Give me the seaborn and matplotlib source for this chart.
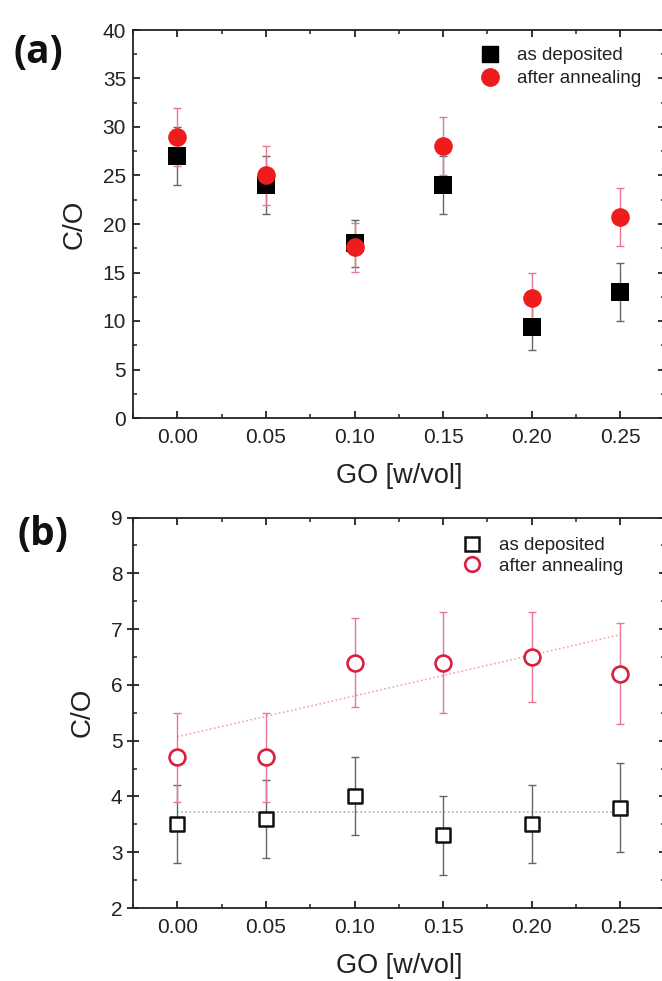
import numpy as np
import pandas as pd
import matplotlib
matplotlib.use("Agg")
import matplotlib.pyplot as plt
import seaborn as sns
from matplotlib.ticker import MultipleLocator, FormatStrFormatter
from matplotlib.lines import Line2D

# ---------------- data ----------------
go = [0.00, 0.05, 0.10, 0.15, 0.20, 0.25]

a_dep = [27.0, 24.0, 18.0, 24.0, 9.4, 13.0]
a_dep_err = [3.0, 3.0, 2.4, 3.0, 2.4, 3.0]
a_ann = [29.0, 25.0, 17.6, 28.0, 12.4, 20.7]
a_ann_err = [3.0, 3.0, 2.5, 3.0, 2.5, 3.0]

b_dep = [3.5, 3.6, 4.0, 3.3, 3.5, 3.8]
b_dep_err = [0.7, 0.7, 0.7, 0.7, 0.7, 0.8]
b_ann = [4.7, 4.7, 6.4, 6.4, 6.5, 6.2]
b_ann_err = [0.8, 0.8, 0.8, 0.9, 0.8, 0.9]

fit_x = [0.0, 0.25]
fit_ann = [5.07, 6.90]
fit_dep = [3.72, 3.72]

labels = ["as deposited", "after annealing"]
xticks = [0.00, 0.05, 0.10, 0.15, 0.20, 0.25]

# ---------------- style ----------------
sns.set_theme(style="white")
plt.rcParams['font.family'] = ['Liberation Sans', 'DejaVu Sans']
plt.rcParams['axes.linewidth'] = 1.3

RED = "#ee1c1c"
RED_EDGE = "#d8213f"
RED_ERR = "#e8788f"
BLK_ERR = "#666666"
TXT = "#222222"

W, H = 662, 981
fig = plt.figure(figsize=(W / 100, H / 100), dpi=100)

axw = 531.6 / W
ax1 = fig.add_axes([133 / W, 1 - 418 / H, axw, 388 / H])
ax2 = fig.add_axes([133 / W, 1 - 908 / H, axw, 390.5 / H])

# ---------------- panel (a) ----------------
dfa = pd.DataFrame({"GO": go * 2, "CO": a_dep + a_ann,
                    "err": a_dep_err + a_ann_err,
                    "kind": [labels[0]] * 6 + [labels[1]] * 6})

ax1.errorbar(go, a_dep, yerr=a_dep_err, fmt='none', ecolor=BLK_ERR,
             elinewidth=1.0, capsize=3, capthick=1.0, zorder=2)
ax1.errorbar(go, a_ann, yerr=a_ann_err, fmt='none', ecolor=RED_ERR,
             elinewidth=1.0, capsize=3, capthick=1.0, zorder=2)
sns.scatterplot(data=dfa[dfa.kind == labels[0]], x="GO", y="CO", ax=ax1,
                marker='s', s=160, color='black', edgecolor='black',
                linewidth=0, zorder=3, legend=False)
sns.scatterplot(data=dfa[dfa.kind == labels[1]], x="GO", y="CO", ax=ax1,
                marker='o', s=180, color=RED, edgecolor=RED,
                linewidth=0, zorder=4, legend=False)

ax1.set_ylim(0, 40)
ax1.yaxis.set_major_locator(MultipleLocator(5))
ax1.yaxis.set_minor_locator(MultipleLocator(2.5))

# ---------------- panel (b) ----------------
dfb = pd.DataFrame({"GO": go * 2, "CO": b_dep + b_ann,
                    "kind": [labels[0]] * 6 + [labels[1]] * 6})
dff = pd.DataFrame({"GO": fit_x * 2, "CO": fit_dep + fit_ann,
                    "kind": [labels[0]] * 2 + [labels[1]] * 2})

sns.lineplot(data=dff[dff.kind == labels[0]], x="GO", y="CO", ax=ax2,
             color="#b0b0b0", linestyle=(0, (1, 1.5)), linewidth=1.2, zorder=1)
sns.lineplot(data=dff[dff.kind == labels[1]], x="GO", y="CO", ax=ax2,
             color="#f2a4ae", linestyle=(0, (1, 1.5)), linewidth=1.2, zorder=1)

ax2.errorbar(go, b_dep, yerr=b_dep_err, fmt='none', ecolor=BLK_ERR,
             elinewidth=1.0, capsize=3, capthick=1.0, zorder=2)
ax2.errorbar(go, b_ann, yerr=b_ann_err, fmt='none', ecolor=RED_ERR,
             elinewidth=1.0, capsize=3, capthick=1.0, zorder=2)
sns.scatterplot(data=dfb[dfb.kind == labels[0]], x="GO", y="CO", ax=ax2,
                marker='s', s=105, facecolor='white', edgecolor='#111111',
                linewidth=1.8, zorder=3, legend=False)
sns.scatterplot(data=dfb[dfb.kind == labels[1]], x="GO", y="CO", ax=ax2,
                marker='o', s=130, facecolor='white', edgecolor=RED_EDGE,
                linewidth=1.9, zorder=4, legend=False)

ax2.set_ylim(2, 9)
ax2.yaxis.set_major_locator(MultipleLocator(1))
ax2.yaxis.set_minor_locator(MultipleLocator(0.5))

# ---------------- common axes formatting ----------------
for ax in (ax1, ax2):
    ax.set_xlim(-0.025, 0.275)
    ax.set_xticks(xticks)
    ax.xaxis.set_minor_locator(MultipleLocator(0.025))
    ax.xaxis.set_major_formatter(FormatStrFormatter('%.2f'))
    for s in ax.spines.values():
        s.set_color('#222222')
        s.set_linewidth(1.3)
    ax.tick_params(axis='x', which='major', direction='in', length=5, width=1.3,
                   top=True, bottom=True, labelsize=15, pad=7,
                   colors='#222222', labelcolor=TXT)
    ax.tick_params(axis='x', which='minor', direction='in', length=3, width=1.1,
                   top=True, bottom=True, colors='#222222')
    ax.tick_params(axis='y', which='minor', direction='in', length=3, width=1.1,
                   left=True, right=True, colors='#222222')
    ax.set_xlabel("GO [w/vol]", fontsize=19.5, color=TXT, labelpad=12)
    ax.set_ylabel("C/O", fontsize=20, color=TXT, labelpad=11)

ax1.tick_params(axis='y', which='major', direction='in', length=5, width=1.3,
                left=True, right=True, labelsize=15, pad=5,
                colors='#222222', labelcolor=TXT)
ax2.tick_params(axis='y', which='major', direction='inout', length=9, width=1.3,
                left=True, right=True, labelsize=15, pad=3,
                colors='#222222', labelcolor=TXT)

# ---------------- legends ----------------
h1 = [Line2D([], [], marker='s', color='black', linestyle='none', markersize=11.5),
      Line2D([], [], marker='o', color=RED, linestyle='none', markersize=12.5)]
ax1.legend(h1, labels, loc='upper left', frameon=False, fontsize=13.5,
           handlelength=1.0, handletextpad=0.9, labelspacing=0.32,
           borderpad=0, borderaxespad=0,
           bbox_to_anchor=(481 / W, 1 - 47 / H), bbox_transform=fig.transFigure,
           labelcolor=TXT)

h2 = [Line2D([], [], marker='s', markerfacecolor='white', markeredgecolor='#111111',
             markeredgewidth=1.8, linestyle='none', markersize=9.5),
      Line2D([], [], marker='o', markerfacecolor='white', markeredgecolor=RED_EDGE,
             markeredgewidth=1.9, linestyle='none', markersize=10.5)]
ax2.legend(h2, labels, loc='upper left', frameon=False, fontsize=13.5,
           handlelength=1.0, handletextpad=0.9, labelspacing=0.18,
           borderpad=0, borderaxespad=0,
           bbox_to_anchor=(463 / W, 1 - 537 / H), bbox_transform=fig.transFigure,
           labelcolor=TXT)

# ---------------- panel labels ----------------
fig.text(38 / W, 1 - 53 / H, "(a)", fontsize=28, fontweight='bold',
         family=['Open Sans', 'DejaVu Sans'], ha='center', va='center', color='#111111')
fig.text(43 / W, 1 - 534 / H, "(b)", fontsize=28, fontweight='bold',
         family=['Open Sans', 'DejaVu Sans'], ha='center', va='center', color='#111111')

fig.savefig("out.png", dpi=100)
